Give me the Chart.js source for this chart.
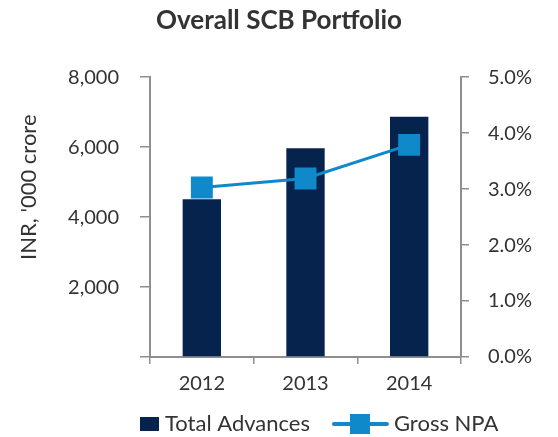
<!DOCTYPE html>
<html>
<head>
<meta charset="utf-8">
<script src="https://cdn.jsdelivr.net/npm/chart.js@4"></script>
<style>
  html, body { margin: 0; padding: 0; background: #fff; }
  #wrap { width: 558px; height: 437px; position: relative; }
</style>
</head>
<body>
<div id="wrap"><canvas id="myChart"></canvas></div>
<script>
// portfolio figures
const years = ['2012', '2013', '2014'];
const totalAdvances = [4510, 5970, 6870];   // INR '000 crore
const grossNpa = [3.03, 3.19, 3.79];        // %
const leftTicks = [0, 2000, 4000, 6000, 8000];
const rightTicks = [0, 1, 2, 3, 4, 5];

const navy = '#05234c';
const blue = '#1089cb';
const axisGrey = '#8f8f8f';
const textGrey = '#333333';
const fontFamily = 'Lato, "Open Sans", sans-serif';

let ctx = document.getElementById('myChart');

// rotated axis caption, sits a bit above the middle of the plot
const yCaption = {
  id: 'yCaption',
  afterDraw(chart) {
    const c = chart.ctx;
    const area = chart.chartArea;
    c.save();
    c.translate(29, area.top + 110);
    c.rotate(-Math.PI / 2);
    c.fillStyle = textGrey;
    c.font = '22px ' + fontFamily;
    c.textAlign = 'center';
    c.textBaseline = 'middle';
    c.fillText("INR, '000 crore", 0, 0);
    c.restore();
  }
};

// legend row under the axis: box for the bars, line + square for the NPA series
const bottomLegend = {
  id: 'bottomLegend',
  afterDraw(chart) {
    const c = chart.ctx;
    const area = chart.chartArea;
    const y = 424;
    let x = area.left - 10;
    c.save();
    c.font = '22px ' + fontFamily;
    c.textBaseline = 'middle';

    c.fillStyle = chart.data.datasets[0].backgroundColor;
    c.fillRect(x, y - 7, 19, 14);
    x += 25;
    c.fillStyle = textGrey;
    c.fillText(chart.data.datasets[0].label, x, y);
    x += c.measureText(chart.data.datasets[0].label).width + 24;

    const lineColor = chart.data.datasets[1].borderColor;
    c.strokeStyle = lineColor;
    c.lineWidth = 4;
    c.lineCap = 'round';
    c.beginPath();
    c.moveTo(x, y);
    c.lineTo(x + 53, y);
    c.stroke();
    c.fillStyle = lineColor;
    c.fillRect(x + 16, y - 10, 20, 20);
    x += 60;
    c.fillStyle = textGrey;
    c.fillText(chart.data.datasets[1].label, x, y);
    c.restore();
  }
};

let chart_temp = {
  type: 'bar',
  data: {
    labels: years,
    datasets: [{
      type: 'bar',
      label: 'Total Advances',
      data: totalAdvances,
      yAxisID: 'y',
      backgroundColor: navy,
      barPercentage: 0.37,
      categoryPercentage: 1,
      order: 1
    }, {
      type: 'line',
      label: 'Gross NPA',
      data: grossNpa,
      yAxisID: 'y1',
      borderColor: blue,
      backgroundColor: blue,
      borderWidth: 3,
      pointStyle: 'rect',
      pointRadius: 15.5,
      pointHoverRadius: 15.5,
      pointBackgroundColor: blue,
      pointBorderWidth: 0,
      order: 0
    }]
  },
  options: {
    responsive: true,
    maintainAspectRatio: false,
    animation: false,
    devicePixelRatio: 1,
    plugins: {
      legend: { display: false },
      tooltip: { enabled: false },
      title: {
        display: true,
        text: 'Overall SCB Portfolio',
        color: textGrey,
        font: { family: fontFamily, size: 26, weight: 'bold' },
        lineHeight: 1.2,
        padding: { top: 5, bottom: 41 }
      }
    },
    scales: {
      x: {
        offset: true,
        grid: { offset: true, drawOnChartArea: false, drawTicks: true, tickLength: 7, color: axisGrey, lineWidth: 1.5 },
        border: { display: true, color: axisGrey, width: 2 },
        ticks: { color: textGrey, font: { family: fontFamily, size: 20 }, padding: 8 },
        afterFit: (s) => { s.height = 80; }
      },
      y: {
        position: 'left',
        min: leftTicks[0],
        max: leftTicks[leftTicks.length - 1],
        afterBuildTicks: (s) => { s.ticks = leftTicks.map(v => ({ value: v })); },
        grid: { drawOnChartArea: false, drawTicks: true, tickLength: 10, color: axisGrey, lineWidth: 1.5 },
        border: { display: true, color: axisGrey, width: 2 },
        ticks: {
          color: textGrey,
          font: { family: fontFamily, size: 20 },
          padding: 21,
          callback: (v) => v === 0 ? '' : v.toLocaleString('en-US')
        },
        afterFit: (s) => { s.width = 150; }
      },
      y1: {
        position: 'right',
        min: rightTicks[0],
        max: rightTicks[rightTicks.length - 1],
        afterBuildTicks: (s) => { s.ticks = rightTicks.map(v => ({ value: v })); },
        grid: { drawOnChartArea: false, drawTicks: true, tickLength: 8, color: axisGrey, lineWidth: 1.5 },
        border: { display: true, color: axisGrey, width: 2 },
        ticks: {
          color: textGrey,
          font: { family: fontFamily, size: 20 },
          padding: 19,
          callback: (v) => v.toFixed(1) + '%'
        },
        afterFit: (s) => { s.width = 97; }
      }
    }
  },
  plugins: [yCaption, bottomLegend]
};

const myChart = new Chart(ctx, chart_temp);
</script>
</body>
</html>
